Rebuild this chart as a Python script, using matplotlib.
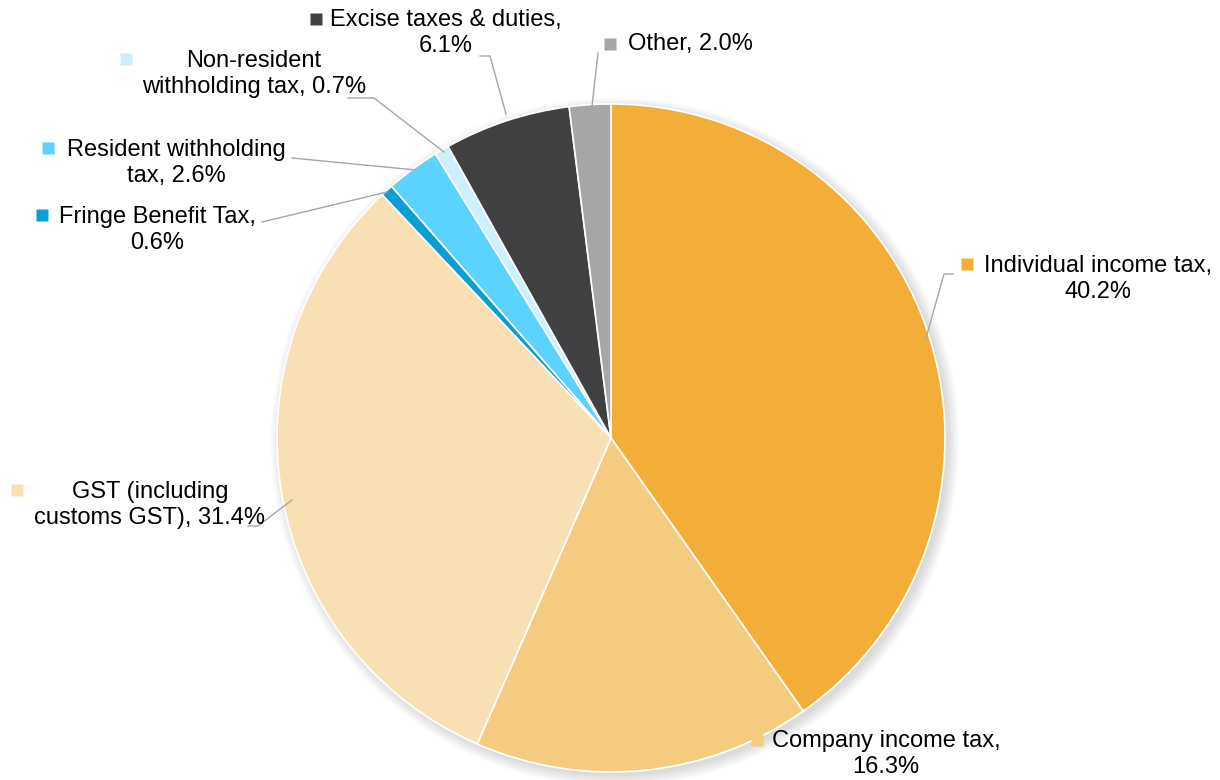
import matplotlib.pyplot as plt
from matplotlib.patches import Circle

# Data
labels = ["Individual income tax", "Company income tax", "GST (including\ncustoms GST)",
          "Fringe Benefit Tax", "Resident withholding\ntax", "Non-resident\nwithholding tax",
          "Excise taxes & duties", "Other"]
shares = [40.2, 16.3, 31.4, 0.6, 2.6, 0.7, 6.1, 2.0]
colors = ["#F2AE38", "#F5CB80", "#F8E0B4", "#0B9ED4", "#5BD2FF", "#CCF0FF", "#404042", "#A6A6A8"]

# label text (as shown in the chart)
label_texts = [
    "Individual income tax,\n40.2%",
    "Company income tax,\n16.3%",
    "GST (including\ncustoms GST), 31.4%",
    "Fringe Benefit Tax,\n0.6%",
    "Resident withholding\ntax, 2.6%",
    "Non-resident\nwithholding tax, 0.7%",
    "Excise taxes & duties,\n6.1%",
    "Other, 2.0%",
]

W, H = 1220, 780
CX, CY, R = 611, 438, 334

def px(x, y):
    # pixel (from top-left) -> data coords (pie radius 1 at centre)
    return (x - CX) / R, (CY - y) / R

fig = plt.figure(figsize=(W / 100, H / 100), dpi=100)
ax = fig.add_axes([0, 0, 1, 1])

# soft shadow
for i in range(6):
    ax.add_patch(Circle((0.012, -0.012), 1.0 + i * 0.006, color="black",
                        alpha=0.025, lw=0, zorder=0))

wedges, _ = ax.pie(shares, colors=colors, startangle=90, counterclock=False,
                   radius=1.0, wedgeprops=dict(edgecolor="white", linewidth=1.2))
for w in wedges:
    w.set_zorder(2)

# pie() resets the limits, so set them afterwards
ax.set_xlim(-CX / R, (W - CX) / R)
ax.set_ylim(-(H - CY) / R, CY / R)
ax.set_aspect("equal")
ax.axis("off")

# label layout: text centre, marker position, leader polyline (pixels)
text_pos = [(1098, 279), (886, 754), (150, 505), (157, 230), (176, 163),
            (254, 74), (446, 33), (690, 44)]
marker_pos = [(967, 264), (757, 740), (17, 490), (42, 215), (48, 148),
              (126, 59), (316, 19), (610, 44)]
leaders = [
    [(953, 274), (944, 274), (926, 338)],
    None,
    [(248, 526), (258, 526), (292, 500)],
    [(262, 222), (387, 192)],
    [(292, 158), (416, 170)],
    [(348, 98), (374, 98), (444, 152)],
    [(480, 56), (490, 56), (506, 114)],
    [(598, 53), (592, 106)],
]

font = ["Liberation Sans", "DejaVu Sans"]
for i in range(len(labels)):
    tx, ty = px(*text_pos[i])
    ax.text(tx, ty, label_texts[i], ha="center", va="center", fontsize=17,
            family=font, color="#000000", linespacing=1.2, zorder=5)
    mx, my = px(*marker_pos[i])
    ax.plot(mx, my, marker="s", ms=8, color=colors[i], mec="none", zorder=5)
    if leaders[i]:
        pts = [px(*p) for p in leaders[i]]
        ax.plot([p[0] for p in pts], [p[1] for p in pts], color="#A6A6A6",
                lw=1.0, zorder=3)

fig.savefig("out.png", dpi=100)
